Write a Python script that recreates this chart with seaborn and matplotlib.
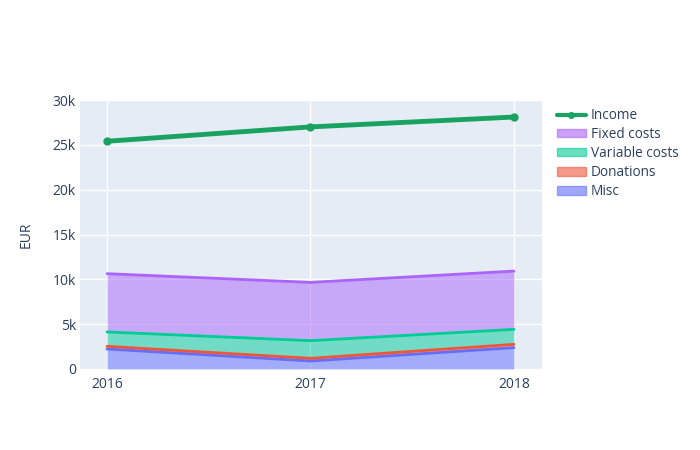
import matplotlib
matplotlib.use("Agg")
import matplotlib.pyplot as plt
import seaborn as sns
import pandas as pd
import numpy as np
from matplotlib.patches import Patch
from matplotlib.lines import Line2D
from matplotlib.ticker import FixedLocator

years = [2016, 2017, 2018]
income = [25400, 27000, 28100]
misc = [2230, 890, 2380]
donations = [300, 300, 370]
variable_costs = [1600, 1970, 1670]
fixed_costs = [6500, 6500, 6500]
y_ticks = [0, 5000, 10000, 15000, 20000, 25000, 30000]
y_tick_labels = ["0", "5k", "10k", "15k", "20k", "25k", "30k"]

sns.set_style("darkgrid", {"axes.facecolor": "#E5ECF6", "grid.color": "white"})
plt.rcParams["font.family"] = ["Open Sans", "DejaVu Sans"]
text_color = "#2a3f5f"

fig = plt.figure(figsize=(7, 4.5), dpi=100)
ax = fig.add_axes([80 / 700, 81 / 450, 462 / 700, 269 / 450])

layers = [
    ("Misc", misc, "#636EFA"),
    ("Donations", donations, "#EF553B"),
    ("Variable costs", variable_costs, "#00CC96"),
    ("Fixed costs", fixed_costs, "#AB63FA"),
]
base = np.zeros(len(years))
for name, vals, col in layers:
    top = base + np.array(vals)
    ax.fill_between(years, base, top, color=col, alpha=0.5, linewidth=0, zorder=2)
    sns.lineplot(x=years, y=top, color=col, linewidth=2, ax=ax, zorder=3)
    base = top

df_inc = pd.DataFrame({"year": years, "EUR": income})
sns.lineplot(data=df_inc, x="year", y="EUR", color="#1AA260", linewidth=3.5,
             marker="o", markersize=6, markeredgewidth=0, ax=ax, zorder=4)

ax.set_xlim(2015.867, 2018.138)
ax.set_ylim(0, 30000)
ax.xaxis.set_major_locator(FixedLocator(years))
ax.set_xticklabels([str(y) for y in years])
ax.yaxis.set_major_locator(FixedLocator(y_ticks))
ax.set_yticklabels(y_tick_labels)
ax.tick_params(axis="both", length=0, labelsize=10, colors=text_color)
ax.tick_params(axis="x", pad=6)
ax.tick_params(axis="y", pad=3)
ax.grid(True, color="white", linewidth=1)
for s in ax.spines.values():
    s.set_visible(False)
ax.set_xlabel("")
ax.set_ylabel("EUR", fontsize=10, color=text_color, labelpad=14)

handles = [
    Line2D([0], [0], color="#1AA260", linewidth=3, marker="o", markersize=4),
    Patch(facecolor="#AB63FA", alpha=0.6, edgecolor="#AB63FA"),
    Patch(facecolor="#00CC96", alpha=0.6, edgecolor="#00CC96"),
    Patch(facecolor="#EF553B", alpha=0.6, edgecolor="#EF553B"),
    Patch(facecolor="#636EFA", alpha=0.6, edgecolor="#636EFA"),
]
labels = ["Income", "Fixed costs", "Variable costs", "Donations", "Misc"]
leg = fig.legend(handles, labels, loc="upper left", bbox_to_anchor=(557 / 700, 1 - 108 / 450),
                 frameon=False, fontsize=9.8, labelcolor=text_color, handlelength=2.1,
                 handleheight=0.55, labelspacing=0.3, handletextpad=0.4, borderaxespad=0,
                 borderpad=0)

fig.savefig("out.png", dpi=100, facecolor="white")
